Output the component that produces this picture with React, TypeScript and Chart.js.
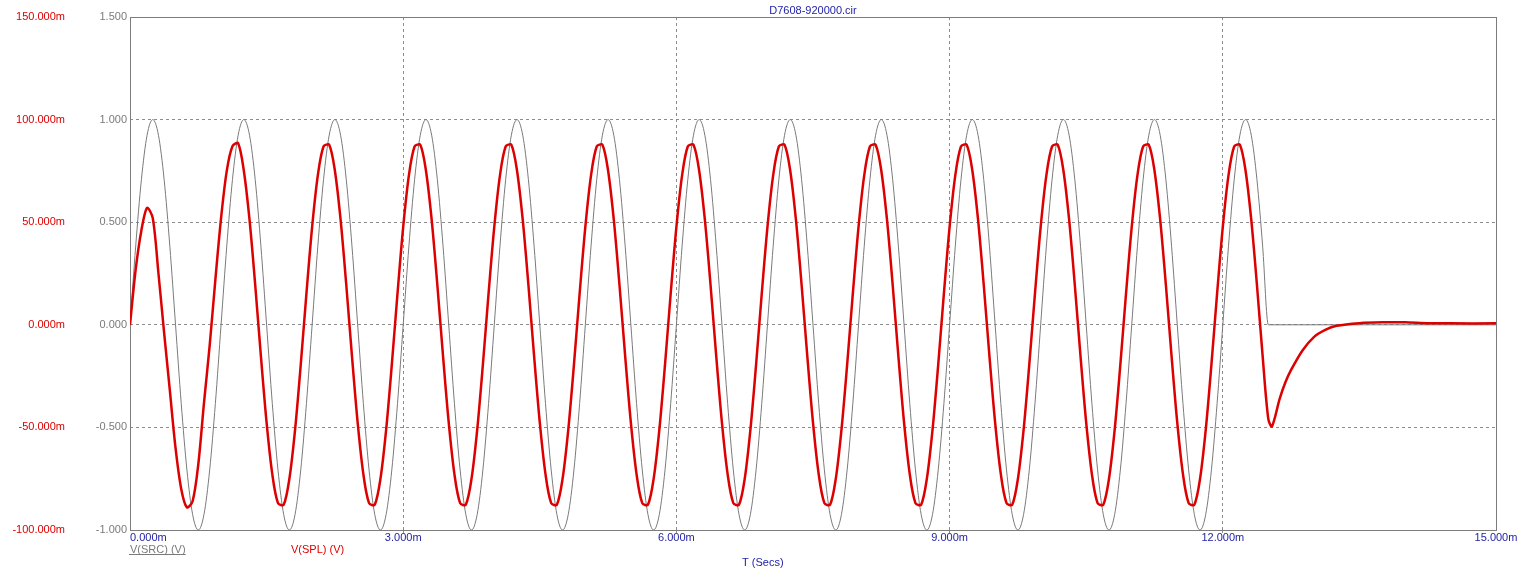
import { useEffect, useRef } from 'react';
import { Chart, registerables } from 'chart.js';

Chart.register(...registerables);

// ---- data ----
const TITLE = 'D7608-920000.cir';
const X_TITLE = 'T (Secs)';
const SRC_NAME = 'V(SRC) (V)';
const SPL_NAME = 'V(SPL) (V)';

// simulation sample clock for the driven part (ms)
const STEP_MS = 0.0625;

// V(SRC) in volts, one sample every STEP_MS from 0 to 12.5 ms
const SRC_V = [
  0, 0.383, 0.707, 0.924, 1, 0.924, 0.707, 0.383, 0, -0.383, -0.707, -0.924, -1, -0.924, -0.707, -0.383,
  0, 0.383, 0.707, 0.924, 1, 0.924, 0.707, 0.383, 0, -0.383, -0.707, -0.924, -1, -0.924, -0.707, -0.383,
  0, 0.383, 0.707, 0.924, 1, 0.924, 0.707, 0.383, 0, -0.383, -0.707, -0.924, -1, -0.924, -0.707, -0.383,
  0, 0.383, 0.707, 0.924, 1, 0.924, 0.707, 0.383, 0, -0.383, -0.707, -0.924, -1, -0.924, -0.707, -0.383,
  0, 0.383, 0.707, 0.924, 1, 0.924, 0.707, 0.383, 0, -0.383, -0.707, -0.924, -1, -0.924, -0.707, -0.383,
  0, 0.383, 0.707, 0.924, 1, 0.924, 0.707, 0.383, 0, -0.383, -0.707, -0.924, -1, -0.924, -0.707, -0.383,
  0, 0.383, 0.707, 0.924, 1, 0.924, 0.707, 0.383, 0, -0.383, -0.707, -0.924, -1, -0.924, -0.707, -0.383,
  0, 0.383, 0.707, 0.924, 1, 0.924, 0.707, 0.383, 0, -0.383, -0.707, -0.924, -1, -0.924, -0.707, -0.383,
  0, 0.383, 0.707, 0.924, 1, 0.924, 0.707, 0.383, 0, -0.383, -0.707, -0.924, -1, -0.924, -0.707, -0.383,
  0, 0.383, 0.707, 0.924, 1, 0.924, 0.707, 0.383, 0, -0.383, -0.707, -0.924, -1, -0.924, -0.707, -0.383,
  0, 0.383, 0.707, 0.924, 1, 0.924, 0.707, 0.383, 0, -0.383, -0.707, -0.924, -1, -0.924, -0.707, -0.383,
  0, 0.383, 0.707, 0.924, 1, 0.924, 0.707, 0.383, 0, -0.383, -0.707, -0.924, -1, -0.924, -0.707, -0.383,
  0, 0.383, 0.707, 0.924, 1, 0.924, 0.707, 0.383,
  0,
];
// V(SRC) after the burst ends
const SRC_TAIL_T = [15];
const SRC_TAIL_V = [0];

// V(SPL) in millivolts, same clock as SRC_V
const SPL_MV = [
  0, 27, 46, 57, 52, 25, -4, -32, -60, -80, -89, -86, -68, -38, -10, 22,
  52, 75, 87, 88.5, 75.1, 51.2, 19.4, -15.3, -47.7, -72.8, -86.9, -87.7, -75.1, -51.2, -19.4, 15.3,
  47.7, 72.8, 86.9, 87.7, 75.1, 51.2, 19.4, -15.3, -47.7, -72.8, -86.9, -87.7, -75.1, -51.2, -19.4, 15.3,
  47.7, 72.8, 86.9, 87.7, 75.1, 51.2, 19.4, -15.3, -47.7, -72.8, -86.9, -87.7, -75.1, -51.2, -19.4, 15.3,
  47.7, 72.8, 86.9, 87.7, 75.1, 51.2, 19.4, -15.3, -47.7, -72.8, -86.9, -87.7, -75.1, -51.2, -19.4, 15.3,
  47.7, 72.8, 86.9, 87.7, 75.1, 51.2, 19.4, -15.3, -47.7, -72.8, -86.9, -87.7, -75.1, -51.2, -19.4, 15.3,
  47.7, 72.8, 86.9, 87.7, 75.1, 51.2, 19.4, -15.3, -47.7, -72.8, -86.9, -87.7, -75.1, -51.2, -19.4, 15.3,
  47.7, 72.8, 86.9, 87.7, 75.1, 51.2, 19.4, -15.3, -47.7, -72.8, -86.9, -87.7, -75.1, -51.2, -19.4, 15.3,
  47.7, 72.8, 86.9, 87.7, 75.1, 51.2, 19.4, -15.3, -47.7, -72.8, -86.9, -87.7, -75.1, -51.2, -19.4, 15.3,
  47.7, 72.8, 86.9, 87.7, 75.1, 51.2, 19.4, -15.3, -47.7, -72.8, -86.9, -87.7, -75.1, -51.2, -19.4, 15.3,
  47.7, 72.8, 86.9, 87.7, 75.1, 51.2, 19.4, -15.3, -47.7, -72.8, -86.9, -87.7, -75.1, -51.2, -19.4, 15.3,
  47.7, 72.8, 86.9, 87.7, 75.1, 51.2, 19.4, -15.3, -47.7, -72.8, -86.9, -87.7, -75.1, -51.2, -19.4, 15.3,
  47.7, 72.8, 86.9, 87.7, 75.1, 51.2, 19.4, -15.3,
  -46,
];
// V(SPL) decay after the burst ends
const SPL_TAIL_T = [12.54, 12.625, 12.6875, 12.75, 12.875, 13.0, 13.125, 13.25, 13.5, 13.75, 14.0, 14.25, 14.5, 15.0];
const SPL_TAIL_MV = [-49.5, -36, -28, -22, -12.5, -6, -2.5, -0.5, 0.8, 1.2, 1.2, 0.8, 0.7, 0.7];

// axes
const X_MIN = 0, X_MAX = 15, X_STEP = 3;
const Y_MIN = -1, Y_MAX = 1.5, Y_STEP = 0.5;
const YR_MIN = -100, YR_MAX = 150, YR_STEP = 50;

// ---- styles ----
const FONT = '"Liberation Sans", Arial, sans-serif';
const GRAY = '#7a7a7a';
const GRID = '#8c8c8c';
const RED = '#dd0000';
const BLUE = '#2323a8';

const srcPoints = SRC_V.map((v, i) => ({ x: i * STEP_MS, y: v })).concat(
  SRC_TAIL_T.map((t, i) => ({ x: t, y: SRC_TAIL_V[i] }))
);
const splPoints = SPL_MV.map((v, i) => ({ x: i * STEP_MS, y: v })).concat(
  SPL_TAIL_T.map((t, i) => ({ x: t, y: SPL_TAIL_MV[i] }))
);

const gridColor = (lo: number, hi: number) => (ctx: any) => {
  const v = ctx.tick ? ctx.tick.value : NaN;
  return Math.abs(v - lo) < 1e-9 || Math.abs(v - hi) < 1e-9 ? 'rgba(0,0,0,0)' : GRID;
};

const framePlugin = {
  id: 'frame',
  beforeDatasetsDraw(chart: any) {
    const { ctx, chartArea: a } = chart;
    ctx.save();
    ctx.strokeStyle = '#7c7c7c';
    ctx.lineWidth = 1;
    ctx.strokeRect(a.left + 0.5, a.top + 0.5, a.right - a.left, a.bottom - a.top);
    ctx.restore();
  },
  afterDraw(chart: any) {
    const { ctx, chartArea: a, scales } = chart;
    const xs = scales.x;
    ctx.save();
    ctx.font = `11px ${FONT}`;
    ctx.textBaseline = 'middle';
    // x tick labels
    ctx.fillStyle = BLUE;
    xs.ticks.forEach((t: any, i: number) => {
      const px = xs.getPixelForValue(t.value);
      ctx.textAlign = i === 0 ? 'left' : 'center';
      ctx.fillText(`${t.value.toFixed(3)}m`, px, a.bottom + 7.5);
    });
    // title
    ctx.textAlign = 'center';
    ctx.fillText(TITLE, (a.left + a.right) / 2, 10.5);
    // x axis title
    ctx.textAlign = 'left';
    ctx.fillText(X_TITLE, 742, 562.5);
    // legend
    ctx.fillStyle = GRAY;
    ctx.fillText(SRC_NAME, a.left, 550);
    const w = ctx.measureText(SRC_NAME).width;
    ctx.fillRect(a.left - 1, 554, w + 1, 1);
    ctx.fillStyle = RED;
    ctx.fillText(SPL_NAME, 291, 550);
    ctx.restore();
  },
};

export default function App() {
  const ref = useRef<HTMLCanvasElement | null>(null);
  useEffect(() => {
    document.body.style.margin = '0';
    const canvas = ref.current;
    if (!canvas) return;
    const chart = new Chart(canvas, {
      type: 'line',
      data: {
        datasets: [
          {
            label: SPL_NAME,
            data: splPoints,
            yAxisID: 'yR',
            borderColor: RED,
            borderWidth: 2.5,
            pointRadius: 0,
            tension: 0.3,
            order: 0,
          },
          {
            label: SRC_NAME,
            data: srcPoints,
            yAxisID: 'y',
            borderColor: GRAY,
            borderWidth: 1,
            pointRadius: 0,
            cubicInterpolationMode: 'monotone',
            order: 1,
          },
        ],
      },
      options: {
        responsive: false,
        animation: false,
        events: [],
        layout: { padding: { top: 17, right: 27, left: 0, bottom: 0 } },
        plugins: { legend: { display: false }, title: { display: false }, tooltip: { enabled: false } },
        scales: {
          x: {
            type: 'linear',
            min: X_MIN,
            max: X_MAX,
            ticks: { stepSize: X_STEP, display: false },
            grid: {
              color: gridColor(X_MIN, X_MAX),
              drawTicks: true,
              tickLength: 3,
              tickColor: gridColor(X_MIN, X_MAX),
            },
            border: { display: false, dash: [3, 3] },
            afterFit: (s: any) => {
              s.height = 50;
            },
          },
          y: {
            type: 'linear',
            position: 'left',
            weight: 0,
            min: Y_MIN,
            max: Y_MAX,
            ticks: {
              stepSize: Y_STEP,
              callback: (v: any) => Number(v).toFixed(3),
              color: GRAY,
              font: { family: FONT, size: 11 },
              padding: 3,
            },
            grid: { color: gridColor(Y_MIN, Y_MAX), drawTicks: false },
            border: { display: false, dash: [3, 3] },
            afterFit: (s: any) => {
              s.width = 60;
            },
          },
          yR: {
            type: 'linear',
            position: 'left',
            weight: 1,
            min: YR_MIN,
            max: YR_MAX,
            ticks: {
              stepSize: YR_STEP,
              callback: (v: any) => `${Number(v).toFixed(3)}m`,
              color: RED,
              font: { family: FONT, size: 11 },
              padding: 5,
            },
            grid: { display: false, drawTicks: false },
            border: { display: false },
            afterFit: (s: any) => {
              s.width = 70;
            },
          },
        },
      },
      plugins: [framePlugin],
    });
    return () => chart.destroy();
  }, []);
  return (
    <div style={{ position: 'absolute', left: 0, top: 0 }}>
      <canvas ref={ref} width={1523} height={580} style={{ display: 'block' }} />
    </div>
  );
}
